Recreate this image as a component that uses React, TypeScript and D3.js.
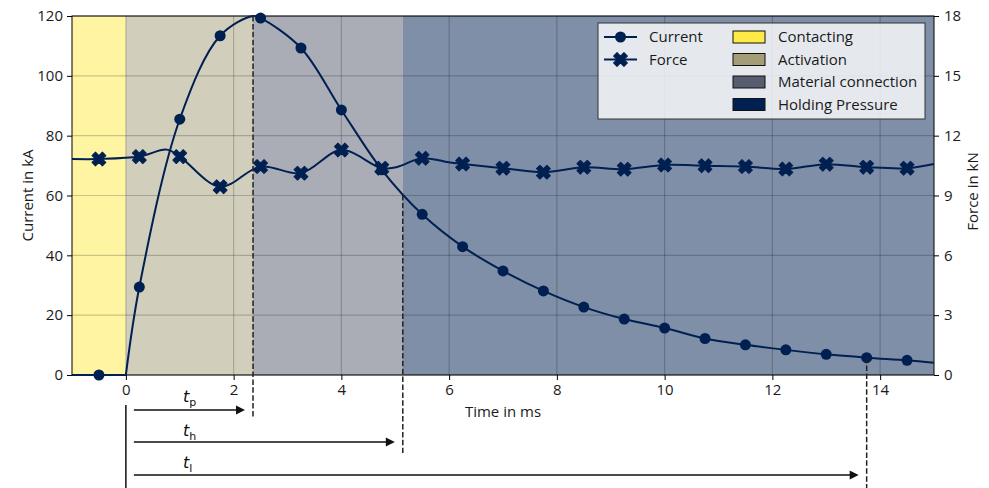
import React, { useEffect, useRef } from 'react';
import * as d3 from 'd3';

// time axis (ms) of the sampled markers
const markerTimes = [-0.5, 0.25, 1.0, 1.75, 2.5, 3.25, 4.0, 4.75, 5.5, 6.25, 7.0, 7.75, 8.5, 9.25, 10.0, 10.75, 11.5, 12.25, 13.0, 13.75, 14.5];
const currentMarkers = [0, 29.4, 85.5, 113.4, 119.3, 109.3, 88.6, 68.6, 53.7, 42.9, 34.8, 28.1, 22.7, 18.7, 15.7, 12.2, 10.1, 8.4, 6.9, 5.8, 4.9];
const forceMarkers = [10.83, 10.95, 10.95, 9.44, 10.45, 10.12, 11.28, 10.37, 10.87, 10.58, 10.37, 10.17, 10.42, 10.32, 10.53, 10.49, 10.45, 10.33, 10.57, 10.42, 10.37];

// extra points on the continuous curves
const currentLineTimes = [-1, -0.5, 0, 0.25, 1.0, 1.75, 2.36, 2.5, 3.25, 4.0, 4.75, 5.5, 6.25, 7.0, 7.75, 8.5, 9.25, 10.0, 10.75, 11.5, 12.25, 13.0, 13.75, 14.5, 15.0];
const currentLineValues = [0, 0, 0, 29.4, 85.5, 113.4, 120, 119.3, 109.3, 88.6, 68.6, 53.7, 42.9, 34.8, 28.1, 22.7, 18.7, 15.7, 12.2, 10.1, 8.4, 6.9, 5.8, 4.9, 4.1];
const forceLineTimes = [-1, -0.5, 0.25, 0.76, 1.0, 1.75, 2.5, 3.25, 4.0, 4.75, 5.03, 5.5, 6.02, 6.25, 7.0, 7.75, 8.5, 9.25, 10.0, 10.75, 11.5, 12.25, 13.0, 13.75, 14.5, 15.0];
const forceLineValues = [10.83, 10.83, 10.95, 11.3, 10.95, 9.44, 10.45, 10.12, 11.28, 10.37, 10.43, 10.87, 10.65, 10.58, 10.37, 10.17, 10.42, 10.32, 10.53, 10.49, 10.45, 10.33, 10.57, 10.42, 10.37, 10.58];

// process phases
const phaseNames = ['Contacting', 'Activation', 'Material connection', 'Holding Pressure'];
const phaseStarts = [-1, 0, 2.36, 5.14];
const phaseEnds = [0, 2.36, 5.14, 15];
const phaseShades = [1, 2 / 3, 1 / 3, 0];

// characteristic times
const markNames = ['p', 'h', 'l'];
const markTimes = [2.36, 5.14, 13.75];
const markCurrents = [120, 60.2, 5.8];

const xTicks = [0, 2, 4, 6, 8, 10, 12, 14];
const currentTicks = [0, 20, 40, 60, 80, 100, 120];
const forceTicks = [0, 3, 6, 9, 12, 15, 18];

const FONT = "'Open Sans', 'Noto Sans', sans-serif";
const FS = 15;

export default function App() {
  const ref = useRef(null);

  useEffect(() => {
    const width = 989;
    const height = 488;
    const left = 72, right = 934, top = 16, bottom = 375;
    const navy = d3.interpolateCividis(0);

    const svg = d3.select(ref.current);
    svg.selectAll('*').remove();
    svg.attr('width', width).attr('height', height);

    const x = d3.scaleLinear().domain([-1, 15]).range([left, right]);
    const yC = d3.scaleLinear().domain([0, 120]).range([bottom, top]);
    const yF = d3.scaleLinear().domain([0, 18]).range([bottom, top]);

    // phase backgrounds
    svg.append('g')
      .selectAll('rect')
      .data(phaseNames)
      .enter()
      .append('rect')
      .attr('x', (d, i) => x(phaseStarts[i]))
      .attr('y', top)
      .attr('width', (d, i) => x(phaseEnds[i]) - x(phaseStarts[i]))
      .attr('height', bottom - top)
      .attr('fill', (d, i) => d3.interpolateCividis(phaseShades[i]))
      .attr('fill-opacity', 0.5);

    // grid
    const grid = svg.append('g').attr('stroke', '#000').attr('stroke-opacity', 0.2).attr('stroke-width', 1.2);
    grid.selectAll('.gx').data(xTicks).enter().append('line')
      .attr('x1', (d) => x(d)).attr('x2', (d) => x(d)).attr('y1', top).attr('y2', bottom);
    grid.selectAll('.gy').data(currentTicks).enter().append('line')
      .attr('x1', left).attr('x2', right).attr('y1', (d) => yC(d)).attr('y2', (d) => yC(d));

    // axes
    const styleAxis = (g) => {
      g.attr('font-family', FONT).attr('font-size', FS);
      g.select('.domain').remove();
      g.selectAll('.tick line').attr('stroke', '#000');
      g.selectAll('.tick text').attr('fill', '#1a1a1a');
    };
    svg.append('g')
      .attr('transform', `translate(0,${bottom})`)
      .call(d3.axisBottom(x).tickValues(xTicks).tickSize(5).tickPadding(4).tickSizeOuter(0))
      .call(styleAxis);
    svg.append('g')
      .attr('transform', `translate(${left},0)`)
      .call(d3.axisLeft(yC).tickValues(currentTicks).tickSize(5).tickPadding(4).tickSizeOuter(0))
      .call(styleAxis);
    svg.append('g')
      .attr('transform', `translate(${right},0)`)
      .call(d3.axisRight(yF).tickValues(forceTicks).tickSize(5).tickPadding(5).tickSizeOuter(0))
      .call(styleAxis);

    svg.append('rect')
      .attr('x', left).attr('y', top)
      .attr('width', right - left).attr('height', bottom - top)
      .attr('fill', 'none').attr('stroke', '#000').attr('stroke-width', 1);

    // axis titles
    svg.append('text')
      .attr('transform', `translate(33,${(top + bottom) / 2}) rotate(-90)`)
      .attr('text-anchor', 'middle').attr('font-family', FONT).attr('font-size', FS).attr('fill', '#1a1a1a')
      .text('Current in kA');
    svg.append('text')
      .attr('transform', `translate(978,${(top + bottom) / 2 - 4}) rotate(-90)`)
      .attr('text-anchor', 'middle').attr('font-family', FONT).attr('font-size', FS).attr('fill', '#1a1a1a')
      .text('Force in kN');
    svg.append('text')
      .attr('x', (left + right) / 2).attr('y', 417)
      .attr('text-anchor', 'middle').attr('font-family', FONT).attr('font-size', FS).attr('fill', '#1a1a1a')
      .text('Time in ms');

    // curves
    const curr = currentLineTimes.map((t, i) => [t, currentLineValues[i]]);
    const force = forceLineTimes.map((t, i) => [t, forceLineValues[i]]);
    const lineC = d3.line().x((d) => x(d[0])).y((d) => yC(d[1]));
    const lineF = d3.line().x((d) => x(d[0])).y((d) => yF(d[1])).curve(d3.curveCatmullRom.alpha(0.5));

    svg.append('path')
      .attr('d', lineC(curr.filter((d) => d[0] <= 0)))
      .attr('fill', 'none').attr('stroke', navy).attr('stroke-width', 2);
    svg.append('path')
      .attr('d', lineC.curve(d3.curveCatmullRom.alpha(0.5))(curr.filter((d) => d[0] >= 0)))
      .attr('fill', 'none').attr('stroke', navy).attr('stroke-width', 2);
    svg.append('path')
      .attr('d', lineF(force))
      .attr('fill', 'none').attr('stroke', navy).attr('stroke-width', 2);

    const xMark = d3.symbol(d3.symbolCross, 120);

    svg.append('g')
      .selectAll('path')
      .data(markerTimes)
      .enter()
      .append('path')
      .attr('d', xMark())
      .attr('transform', (d, i) => `translate(${x(d)},${yF(forceMarkers[i])}) rotate(45)`)
      .attr('fill', navy)
      .attr('stroke', navy).attr('stroke-width', 1).attr('stroke-linejoin', 'round');

    svg.append('g')
      .selectAll('circle')
      .data(markerTimes)
      .enter()
      .append('circle')
      .attr('cx', (d) => x(d))
      .attr('cy', (d, i) => yC(currentMarkers[i]))
      .attr('r', 5.5)
      .attr('fill', navy);

    // characteristic time markers
    const dashBottoms = [418, 453, 488];
    const arrowYs = [410, 442, 475];
    const labelYs = [402, 436, 468];
    svg.append('g')
      .selectAll('line')
      .data(markTimes)
      .enter()
      .append('line')
      .attr('x1', (d) => x(d)).attr('x2', (d) => x(d))
      .attr('y1', (d, i) => yC(markCurrents[i]))
      .attr('y2', (d, i) => dashBottoms[i])
      .attr('stroke', '#222').attr('stroke-width', 1.5).attr('stroke-dasharray', '5.5,2.4');

    svg.append('line')
      .attr('x1', x(0)).attr('x2', x(0)).attr('y1', 405).attr('y2', height)
      .attr('stroke', '#111').attr('stroke-width', 1.5);

    const arrows = svg.append('g');
    markTimes.forEach((t, i) => {
      const x0 = x(0) + 8;
      const x1 = x(t) - 8;
      const ay = arrowYs[i];
      arrows.append('line')
        .attr('x1', x0).attr('x2', x1 - 6).attr('y1', ay).attr('y2', ay)
        .attr('stroke', '#111').attr('stroke-width', 1.5);
      arrows.append('path')
        .attr('d', `M${x1},${ay} L${x1 - 9},${ay - 4.5} L${x1 - 9},${ay + 4.5} Z`)
        .attr('fill', '#111');
      const lbl = arrows.append('text')
        .attr('x', 183).attr('y', labelYs[i])
        .attr('font-family', "'DejaVu Sans', sans-serif").attr('fill', '#111');
      lbl.append('tspan').attr('font-style', 'italic').attr('font-size', 16).text('t');
      lbl.append('tspan').attr('font-size', 11).attr('dy', 4).text(markNames[i]);
    });

    // legend
    const lg = svg.append('g');
    lg.append('rect')
      .attr('x', 598).attr('y', 23).attr('width', 327).attr('height', 96)
      .attr('fill', '#fff').attr('fill-opacity', 0.8)
      .attr('stroke', '#333').attr('stroke-width', 1);
    const rowY = [37, 59.5, 82, 104.5];
    const seriesNames = ['Current', 'Force'];
    seriesNames.forEach((name, i) => {
      const cy = rowY[i];
      lg.append('line').attr('x1', 604).attr('x2', 637).attr('y1', cy).attr('y2', cy)
        .attr('stroke', navy).attr('stroke-width', 2);
      if (i === 0) {
        lg.append('circle').attr('cx', 620.5).attr('cy', cy).attr('r', 5.5).attr('fill', navy);
      } else {
        lg.append('path').attr('d', xMark()).attr('transform', `translate(620.5,${cy}) rotate(45)`)
          .attr('fill', navy).attr('stroke', navy).attr('stroke-width', 1).attr('stroke-linejoin', 'round');
      }
      lg.append('text').attr('x', 649).attr('y', cy).attr('dy', '0.35em')
        .attr('font-family', FONT).attr('font-size', FS).attr('fill', '#1a1a1a').text(name);
    });
    phaseNames.forEach((name, i) => {
      const cy = rowY[i];
      lg.append('rect').attr('x', 733).attr('y', cy - 6).attr('width', 32).attr('height', 12)
        .attr('fill', d3.interpolateCividis(phaseShades[i])).attr('stroke', '#111').attr('stroke-width', 1);
      lg.append('text').attr('x', 778).attr('y', cy).attr('dy', '0.35em')
        .attr('font-family', FONT).attr('font-size', FS).attr('fill', '#1a1a1a').text(name);
    });
  });

  return (
    <div id='chartArea'>
      <svg ref={ref} style={{ position: 'absolute', left: 0, top: 0 }}></svg>
    </div>
  );
}
